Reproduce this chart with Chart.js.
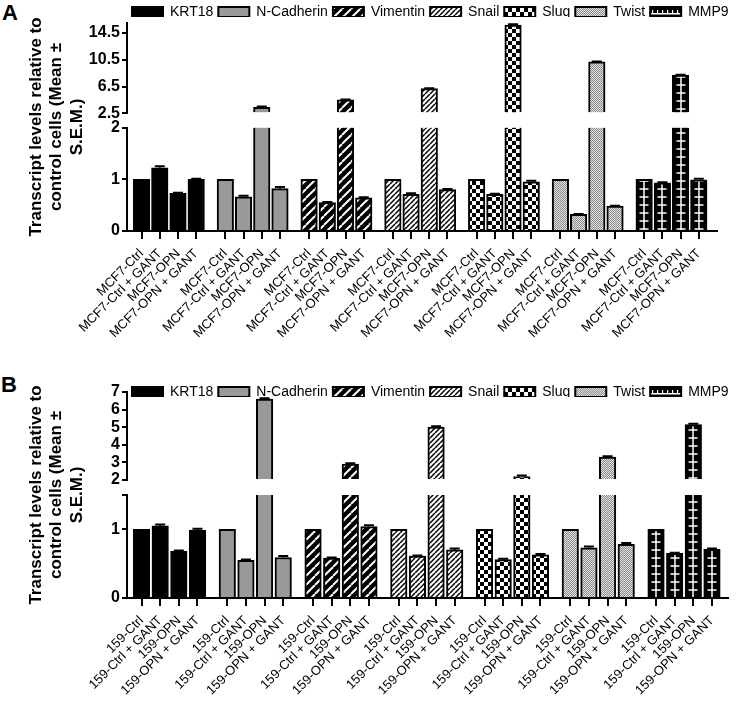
<!DOCTYPE html>
<html>
<head>
<meta charset="utf-8">
<script src="https://cdn.jsdelivr.net/npm/chart.js@4.4.1/dist/chart.umd.min.js"></script>
<style>
  html, body { margin:0; padding:0; background:#fff; }
  body { position:relative; width:745px; height:703px; overflow:hidden; font-family:'Liberation Sans', Arial, sans-serif; }
  canvas { position:absolute; left:0; }
  .plabel { position:absolute; font-weight:bold; font-size:22px; line-height:22px; color:#000; }
</style>
</head>
<body>
<div class="plabel" style="left:2px; top:2px;">A</div>
<div class="plabel" style="left:1px; top:374px;">B</div>
<canvas id="chartA" width="745" height="337" style="top:9px"></canvas>
<canvas id="chartB" width="745" height="324" style="top:378px"></canvas>
<canvas id="legendA" width="745" height="34" style="top:0px"></canvas>
<canvas id="legendB" width="745" height="34" style="top:380px"></canvas>
<script>
// ---------------- DATA ----------------
const genes = ['KRT18', 'N-Cadherin', 'Vimentin', 'Snail', 'Slug', 'Twist', 'MMP9'];
const conditionsA = ['MCF7-Ctrl', 'MCF7-Ctrl + GANT', 'MCF7-OPN', 'MCF7-OPN + GANT'];
const conditionsB = ['159-Ctrl', '159-Ctrl + GANT', '159-OPN', '159-OPN + GANT'];
const yTitleLines = ['Transcript levels relative to', 'control cells (Mean \u00b1', 'S.E.M.)'];

// Panel A (MCF7) means
const krt18A = [1.00, 1.22, 0.73, 1.00];
const ncadA  = [1.00, 0.66, 3.40, 0.82];
const vimA   = [1.00, 0.55, 4.50, 0.64];
const snailA = [1.00, 0.71, 6.20, 0.80];
const slugA  = [1.00, 0.71, 15.70, 0.95];
const twistA = [1.00, 0.32, 10.20, 0.48];
const mmp9A  = [1.00, 0.93, 8.20, 0.99];
// Panel A S.E.M.
const krt18SemA = [0, 0.03, 0.01, 0.01];
const ncadSemA  = [0, 0.02, 0.10, 0.03];
const vimSemA   = [0, 0.01, 0.05, 0.01];
const snailSemA = [0, 0.02, 0.05, 0.01];
const slugSemA  = [0, 0.01, 0.10, 0.02];
const twistSemA = [0, 0.01, 0.05, 0.01];
const mmp9SemA  = [0, 0.01, 0.05, 0.02];

// Panel B (159) means
const krt18B = [1.00, 1.05, 0.68, 0.99];
const ncadB  = [1.00, 0.55, 6.60, 0.59];
const vimB   = [1.00, 0.58, 2.90, 1.04];
const snailB = [1.00, 0.61, 5.00, 0.70];
const slugB  = [1.00, 0.56, 2.20, 0.63];
const twistB = [1.00, 0.73, 3.30, 0.78];
const mmp9B  = [1.00, 0.65, 5.15, 0.71];
// Panel B S.E.M.
const krt18SemB = [0, 0.02, 0.01, 0.02];
const ncadSemB  = [0, 0.01, 0.05, 0.02];
const vimSemB   = [0, 0.01, 0.05, 0.02];
const snailSemB = [0, 0.01, 0.05, 0.02];
const slugSemB  = [0, 0.01, 0.05, 0.01];
const twistSemB = [0, 0.02, 0.05, 0.02];
const mmp9SemB  = [0, 0.01, 0.05, 0.01];

// Tick values / labels (broken axes)
const yLowTicksA = [0, 1, 2];
const yLowLabelsA = ['0', '1', '2'];
const yHighTicksA = [2.5, 6.5, 10.5, 14.5];
const yHighLabelsA = ['2.5', '6.5', '10.5', '14.5'];
const yLowTicksB = [0, 1, 1.5];
const yLowLabelsB = ['0', '1', ''];
const yHighTicksB = [2, 3, 4, 5, 6, 7];
const yHighLabelsB = ['2', '3', '4', '5', '6', '7'];

// ---------------- STYLE ----------------
Chart.defaults.font.family = "'Liberation Sans', Arial, Helvetica, sans-serif";
Chart.defaults.color = '#000';
Chart.defaults.animation = false;

const GROUP = 4.6;     // slot distance between gene groups (in bar units)
const BAR_W = 16.5;

const pctx = document.createElement('canvas').getContext('2d');
function tile(w, h, draw) {
  const c = document.createElement('canvas');
  c.width = w; c.height = h;
  draw(c.getContext('2d'), w, h);
  return c;
}
function diag(g, w, h, lw, color) {
  g.strokeStyle = color; g.lineWidth = lw;
  for (const k of [-w, 0, w]) { g.beginPath(); g.moveTo(k, h); g.lineTo(k + w, 0); g.stroke(); }
}
const vimPat = pctx.createPattern(tile(9, 9, (g, w, h) => { g.fillStyle = '#000'; g.fillRect(0, 0, w, h); diag(g, w, h, 2, '#fff'); }), 'repeat');
const snailPat = pctx.createPattern(tile(5, 5, (g, w, h) => { g.fillStyle = '#fff'; g.fillRect(0, 0, w, h); diag(g, w, h, 1.5, '#000'); }), 'repeat');
const slugPat = pctx.createPattern(tile(8, 8, (g) => { g.fillStyle = '#000'; g.fillRect(0, 0, 8, 8); g.fillStyle = '#fff'; g.fillRect(0, 0, 4, 4); g.fillRect(4, 4, 4, 4); }), 'repeat');
const twistPat = pctx.createPattern(tile(2, 2, (g) => { g.fillStyle = '#e2e2e2'; g.fillRect(0, 0, 2, 2); g.fillStyle = '#8c8c8c'; g.fillRect(1, 0, 1, 1); g.fillRect(0, 1, 1, 1); }), 'repeat');
const mmpTile = tile(20, 8, (g) => { g.fillStyle = '#000'; g.fillRect(0, 0, 20, 8); g.fillStyle = '#fff'; g.fillRect(9.25, 0, 1.5, 8); g.fillRect(5.5, 3.25, 9, 1.5); });
const mmpLegTile = tile(5, 10, (g) => { g.fillStyle = '#000'; g.fillRect(0, 0, 5, 10); g.fillStyle = '#fff'; g.fillRect(0, 6, 5, 1.5); g.fillRect(2, 3, 1.2, 3); });
const mmpLegPat = pctx.createPattern(mmpLegTile, 'repeat');
mmpLegPat.setTransform(new DOMMatrix([1, 0, 0, 1, 0, 7]));

function mmpBarFill(ctx) {
  if (ctx.type === 'data' && ctx.raw && ctx.chart.scales.x) {
    const px = ctx.chart.scales.x.getPixelForValue(ctx.raw.x);
    const p = pctx.createPattern(mmpTile, 'repeat');
    p.setTransform(new DOMMatrix([1, 0, 0, 1, Math.round(px) - 10, 0]));
    return p;
  }
  return '#000';
}
const barFills = ['#000000', '#999999', vimPat, snailPat, slugPat, twistPat, mmpBarFill];
const legendFills = ['#000000', '#999999', vimPat, snailPat, slugPat, twistPat, mmpLegPat];

// ---------------- PANELS ----------------
const panelA = {
  canvas: 'chartA', cond: conditionsA,
  values: [krt18A, ncadA, vimA, snailA, slugA, twistA, mmp9A],
  sem: [krt18SemA, ncadSemA, vimSemA, snailSemA, slugSemA, twistSemA, mmp9SemA],
  low: { min: 0, max: 2, ticks: yLowTicksA, labels: yLowLabelsA },
  high: { min: 2.5, max: 16, ticks: yHighTicksA, labels: yHighLabelsA },
  w: { high: 90.3, gap: 14.2, low: 103.5 },
  x: { min: -0.8, max: 31.6, height: 115 }, padRight: 28
};
const panelB = {
  canvas: 'chartB', cond: conditionsB,
  values: [krt18B, ncadB, vimB, snailB, slugB, twistB, mmp9B],
  sem: [krt18SemB, ncadSemB, vimSemB, snailSemB, slugSemB, twistSemB, mmp9SemB],
  low: { min: 0, max: 1.5, ticks: yLowTicksB, labels: yLowLabelsB },
  high: { min: 2, max: 7, ticks: yHighTicksB, labels: yHighLabelsB },
  w: { high: 88, gap: 15, low: 103 },
  x: { min: -0.78, max: 31.46, height: 104 }, padRight: 17
};

function valueAxis(range, weight, stackWeight) {
  return {
    type: 'linear', position: 'left', stack: 'v', stackWeight: stackWeight, weight: weight,
    min: range.min, max: range.max, beginAtZero: false,
    border: { display: true, color: '#000', width: 2 },
    grid: { display: true, drawOnChartArea: false, color: '#000', lineWidth: 2, tickLength: 5 },
    ticks: { autoSkip: false, color: '#000', font: { size: 16, weight: 'bold' }, padding: 2, callback: (v, i) => range.labels[i] },
    afterBuildTicks: (s) => { s.ticks = range.ticks.map(v => ({ value: v })); },
    afterFit: (s) => { s.width = 40; }
  };
}

function errorBarPlugin(P) {
  return {
    id: 'semBars',
    afterDatasetsDraw(chart) {
      const c = chart.ctx, xs = chart.scales.x, lo = chart.scales.yLow, hi = chart.scales.yHigh;
      c.save(); c.strokeStyle = '#000'; c.lineWidth = 2;
      genes.forEach((g, gi) => P.values[gi].forEach((v, ci) => {
        const s = P.sem[gi][ci];
        if (!s) return;
        const sc = v > P.high.min ? hi : (v <= P.low.max ? lo : null);
        if (!sc) return;
        const x = xs.getPixelForValue(gi * GROUP + ci);
        const y0 = sc.getPixelForValue(v), y1 = sc.getPixelForValue(v + s);
        c.beginPath(); c.moveTo(x, y0); c.lineTo(x, y1);
        c.moveTo(x - 5, y1); c.lineTo(x + 5, y1); c.stroke();
      }));
      c.restore();
    }
  };
}

function buildPanel(P) {
  const xPos = [], xLab = [];
  genes.forEach((g, gi) => P.cond.forEach((c, ci) => { xPos.push(gi * GROUP + ci); xLab.push(c); }));

  const lowDs = genes.map((g, gi) => {
    const vals = P.values[gi];
    return {
      label: g, xAxisID: 'x', yAxisID: 'yLow', grouped: false, barThickness: BAR_W,
      data: vals.map((v, ci) => ({ x: gi * GROUP + ci, y: Math.min(v, P.low.max) })),
      backgroundColor: barFills[gi], borderColor: '#000', borderSkipped: 'start',
      borderWidth: (ctx) => (ctx.type === 'data' && vals[ctx.dataIndex] > P.low.max) ? { top: 0, left: 2, right: 2, bottom: 0 } : 2
    };
  });
  const highDs = genes.map((g, gi) => {
    const vals = P.values[gi];
    return {
      label: g, xAxisID: 'x', yAxisID: 'yHigh', grouped: false, barThickness: BAR_W, base: P.high.min,
      data: vals.map((v, ci) => ({ x: gi * GROUP + ci, y: v > P.high.min ? v : null })),
      backgroundColor: barFills[gi], borderColor: '#000', borderWidth: 2, borderSkipped: 'start'
    };
  });

  return new Chart(document.getElementById(P.canvas), {
    type: 'bar',
    data: { datasets: lowDs.concat(highDs) },
    options: {
      responsive: false, animation: false,
      layout: { padding: { top: 14, right: P.padRight, bottom: 0, left: 0 } },
      plugins: { legend: { display: false }, tooltip: { enabled: false } },
      scales: {
        x: {
          type: 'linear', position: 'bottom', min: P.x.min, max: P.x.max, offset: false,
          border: { display: true, color: '#000', width: 2 },
          grid: { display: true, offset: false, drawOnChartArea: false, color: '#000', lineWidth: 2, tickLength: 8 },
          ticks: { autoSkip: false, minRotation: 45, maxRotation: 45, color: '#000', font: { size: 13 }, padding: 7, callback: (v, i) => xLab[i] },
          afterBuildTicks: (s) => { s.ticks = xPos.map(v => ({ value: v })); },
          afterFit: (s) => { s.height = P.x.height; }
        },
        yTitle: {
          type: 'linear', position: 'left', weight: 10, min: 0, max: 1,
          border: { display: false }, grid: { display: false }, ticks: { display: false },
          title: { display: true, text: yTitleLines, color: '#000', font: { size: 17, weight: 'bold', lineHeight: 1.2 }, padding: { top: 26, bottom: 0 } },
          afterFit: (s) => { s.width = 87; }
        },
        yHigh: valueAxis(P.high, 3, P.w.high),
        yGap: {
          type: 'linear', position: 'left', stack: 'v', stackWeight: P.w.gap, weight: 2, min: 0, max: 1,
          border: { display: false }, grid: { display: false }, ticks: { display: false },
          afterFit: (s) => { s.width = 40; }
        },
        yLow: valueAxis(P.low, 1, P.w.low)
      }
    },
    plugins: [errorBarPlugin(P)]
  });
}

function buildLegend(id) {
  return new Chart(document.getElementById(id), {
    type: 'bar',
    data: { labels: [], datasets: genes.map((g, gi) => ({ label: g, data: [], backgroundColor: legendFills[gi], borderColor: '#000', borderWidth: 2 })) },
    options: {
      responsive: false, animation: false,
      layout: { padding: { left: 127, top: 0, right: 0, bottom: 0 } },
      scales: { x: { display: false }, y: { display: false } },
      plugins: {
        tooltip: { enabled: false },
        legend: { display: true, position: 'top', align: 'start',
          labels: { boxWidth: 31, boxHeight: 10, padding: 5, color: '#000', font: { size: 14 } } }
      }
    }
  });
}

buildPanel(panelA);
buildPanel(panelB);
buildLegend('legendA');
buildLegend('legendB');
</script>
</body>
</html>
